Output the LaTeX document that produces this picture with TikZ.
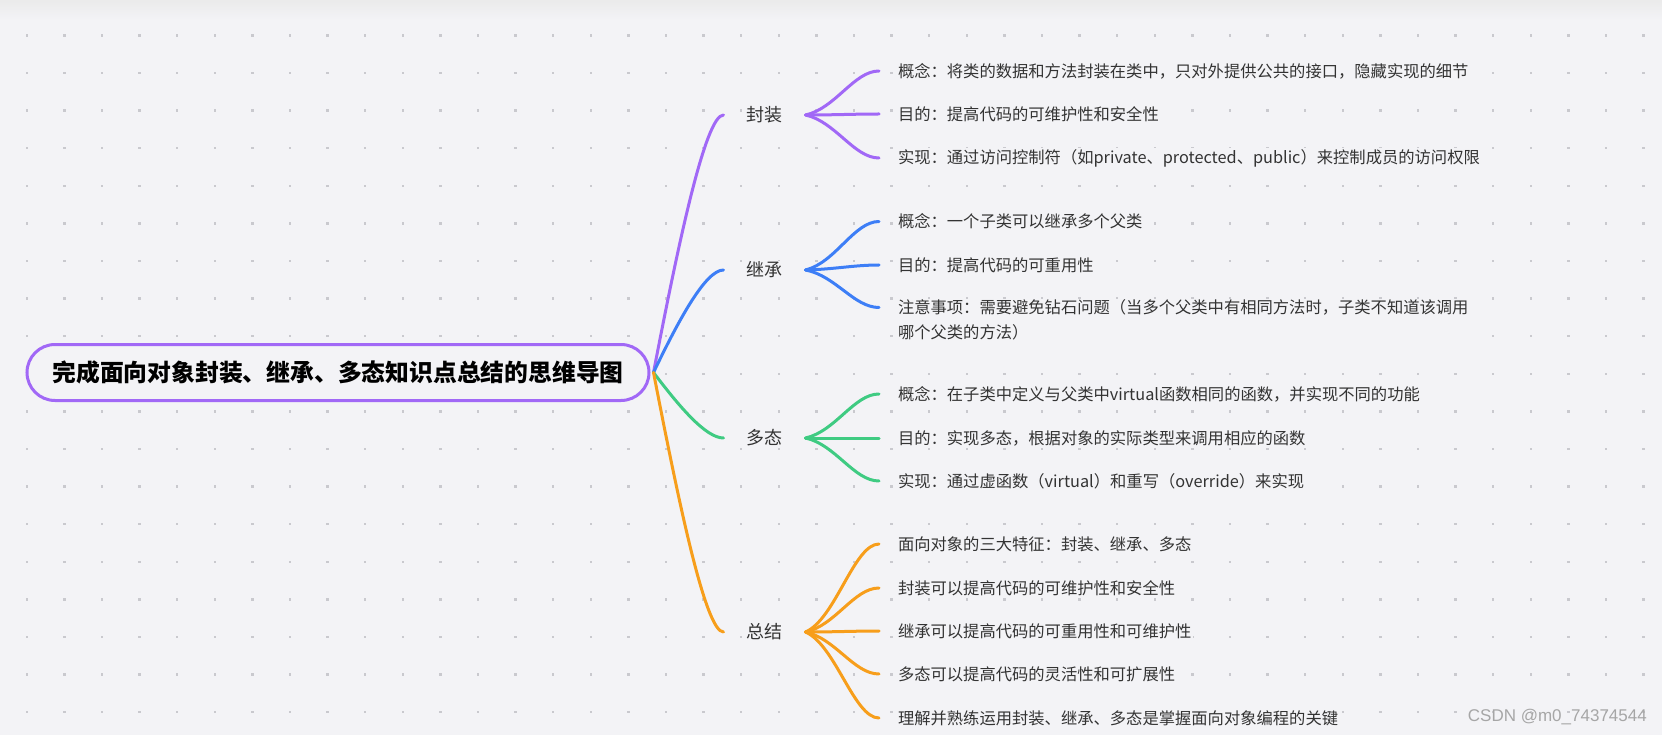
\documentclass[tikz,border=0pt]{standalone}
\usepackage{fontspec}
\setmainfont{Noto Sans CJK SC}
\newfontfamily\wmfont{Liberation Sans}
\usetikzlibrary{positioning}
\definecolor{bgc}{HTML}{F3F3F6}
\definecolor{dotc}{HTML}{C9C9CE}
\definecolor{fzc}{HTML}{A168F6}
\definecolor{jcc}{HTML}{3D7EF6}
\definecolor{dtc}{HTML}{3FCB82}
\definecolor{zjc}{HTML}{F79E1B}
\definecolor{txt}{HTML}{333333}
\definecolor{wmc}{HTML}{A6A6A6}

\begin{document}
\begin{tikzpicture}[x=1pt,y=-1pt,
  root/.style={draw=fzc,line width=3pt,fill=bgc,rounded corners=28pt,minimum width=622pt,minimum height=56pt,inner sep=0pt,text=black,font=\fontsize{23.8}{28}\selectfont\bfseries},
  branch/.style={fill=bgc,text=txt,font=\fontsize{18}{22}\selectfont,inner xsep=2pt,inner ysep=1pt,outer xsep=21pt,outer ysep=0pt},
  leaf/.style={fill=bgc,text=txt,font=\fontsize{16.3}{24.5}\selectfont,inner xsep=2pt,inner ysep=1pt,outer xsep=17pt,outer ysep=0pt,anchor=west,align=left},
  link/.style={line width=3pt,line cap=round}]
\useasboundingbox (0,0) rectangle (1662,735);
\fill[bgc] (0,0) rectangle (1662,735);
\shade[top color=black!8,bottom color=bgc] (0,0) rectangle (1662,20);
% dot grid
\foreach \i in {0,...,43} \foreach \j in {0,...,18} \fill[dotc] (26.8+37.6*\i-1.2,35.4+37.6*\j-1.2) rectangle +(2.4,2.4);

\node[root] (root) at (338,372.5) {完成面向对象封装、继承、多态知识点总结的思维导图};
\coordinate (ro) at ([xshift=3pt]root.east);

\node[branch] (fz) at (764.5,115) {封装};
\node[branch] (jc) at (764.5,270) {继承};
\node[branch] (dt) at (764.5,438) {多态};
\node[branch] (zj) at (764.5,632) {总结};

\draw[link,fzc] (ro) .. controls +(25,-130) and +(-18,0) .. (fz.west);
\draw[link,jcc] (ro) .. controls +(25,-52) and +(-18,0) .. (jc.west);
\draw[link,dtc] (ro) .. controls +(25,33) and +(-18,0) .. (dt.west);
\draw[link,zjc] (ro) .. controls +(25,129) and +(-18,0) .. (zj.west);

% 封装
\node[leaf] (fz1) at (879,71) {概念：将类的数据和方法封装在类中，只对外提供公共的接口，隐藏实现的细节};
\node[leaf] (fz2) at (879,114) {目的：提高代码的可维护性和安全性};
\node[leaf] (fz3) at (879,158) {实现：通过访问控制符（如private、protected、public）来控制成员的访问权限};
\foreach \n/\d in {fz1/-6.5,fz2/0,fz3/6.6} \draw[link,fzc] (fz.east) .. controls +(30,\d) and +(-25,0) .. (\n.west);

% 继承
\node[leaf] (jc1) at (879,221.5) {概念：一个子类可以继承多个父类};
\node[leaf] (jc2) at (879,265) {目的：提高代码的可重用性};
\node[leaf] (jc3) at (879,319.8) {注意事项：需要避免钻石问题（当多个父类中有相同方法时，子类不知道该调用\\哪个父类的方法）};
\foreach \n/\d in {jc1/-7.3,jc2/-0.8} \draw[link,jcc] (jc.east) .. controls +(30,\d) and +(-25,0) .. (\n.west);
\draw[link,jcc] (jc.east) .. controls +(30,5.6) and +(-25,0) .. ([yshift=12.3pt]jc3.west);

% 多态
\node[leaf] (dt1) at (879,394) {概念：在子类中定义与父类中virtual函数相同的函数，并实现不同的功能};
\node[leaf] (dt2) at (879,438) {目的：实现多态，根据对象的实际类型来调用相应的函数};
\node[leaf] (dt3) at (879,481) {实现：通过虚函数（virtual）和重写（override）来实现};
\foreach \n/\d in {dt1/-6.6,dt2/0,dt3/6.5} \draw[link,dtc] (dt.east) .. controls +(30,\d) and +(-25,0) .. (\n.west);

% 总结
\node[leaf] (zj1) at (879,544) {面向对象的三大特征：封装、继承、多态};
\node[leaf] (zj2) at (879,588) {封装可以提高代码的可维护性和安全性};
\node[leaf] (zj3) at (879,631) {继承可以提高代码的可重用性和可维护性};
\node[leaf] (zj4) at (879,674) {多态可以提高代码的灵活性和可扩展性};
\node[leaf] (zj5) at (879,718) {理解并熟练运用封装、继承、多态是掌握面向对象编程的关键};
\foreach \n/\d in {zj1/-13,zj2/-6.5,zj3/0,zj4/6.5,zj5/13} \draw[link,zjc] (zj.east) .. controls +(30,\d) and +(-25,0) .. (\n.west);

\node[anchor=east,inner sep=0pt,text=wmc,font=\wmfont\fontsize{17}{20}\selectfont] (wm) at (1647,717) {CSDN @m0\_74374544};
\end{tikzpicture}
\end{document}
